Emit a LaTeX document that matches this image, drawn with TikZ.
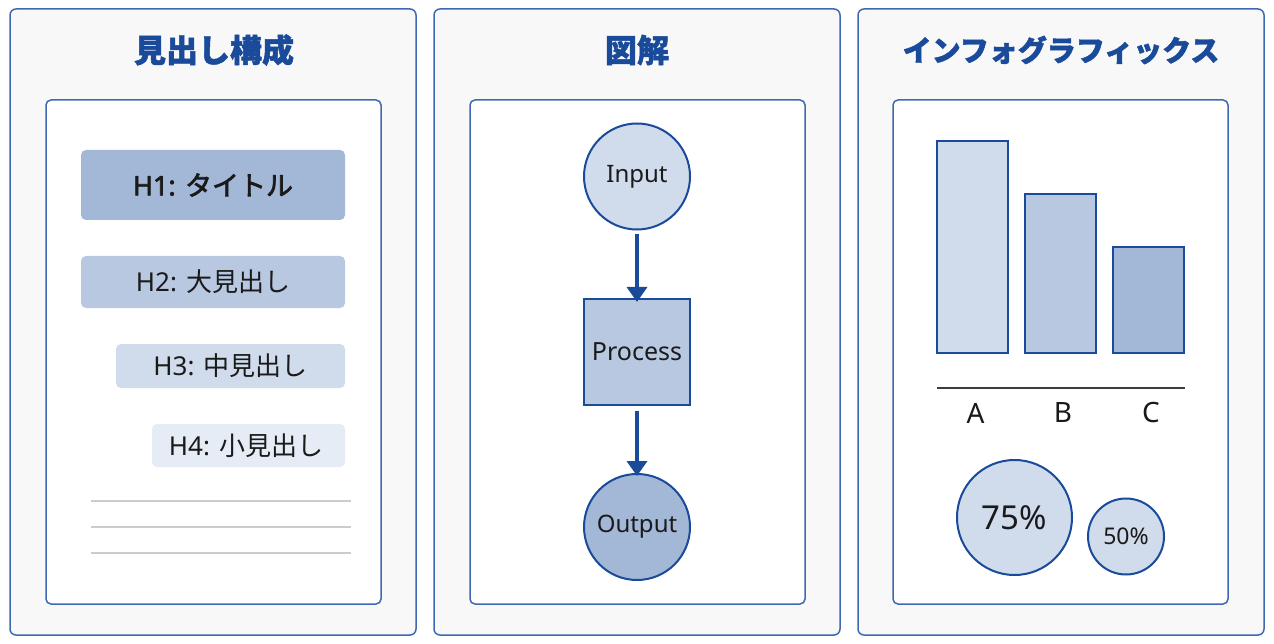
\documentclass[tikz,border=0pt]{standalone}
\usepackage{fontspec}
\setmainfont{Noto Sans}
\newfontfamily\cjk{Noto Sans CJK JP}
\newfontfamily\cjkt[FakeBold=1.5]{Noto Sans CJK JP}
\newfontfamily\latsemi[FakeBold=2.5]{Noto Sans}
\newfontfamily\cjksemi[FakeBold=2.5]{Noto Sans CJK JP}
\usetikzlibrary{arrows.meta}
\definecolor{navy}{HTML}{1A4A9A}
\definecolor{edge}{HTML}{3F6AB2}
\definecolor{panelbg}{HTML}{F8F8F8}
\definecolor{fillA}{HTML}{D0DCEC}
\definecolor{fillB}{HTML}{B8C8E1}
\definecolor{fillC}{HTML}{A3B7D7}
\definecolor{fillD}{HTML}{E5ECF5}
\definecolor{ink}{HTML}{1A1A1A}
\definecolor{rule}{HTML}{CCCCCC}
\tikzset{
  panel/.style={draw=edge, line width=1.5pt, fill=panelbg, rounded corners=6pt},
  inner/.style={draw=edge, line width=1.5pt, fill=white, rounded corners=5pt},
  ptitle/.style={text=navy},
  htext/.style={text=ink, font=\fontsize{26}{28}\selectfont},
  shape1/.style={draw=navy, line width=2pt, text=ink, font=\fontsize{24}{26}\selectfont},
  flowarrow/.style={draw=navy, line width=3.5pt, -{Triangle[length=15pt,width=20pt]}},
  barstyle/.style={draw=navy, line width=2pt},
  axislabel/.style={text=ink, font=\fontsize{28}{30}\selectfont},
}
\begin{document}
\begin{tikzpicture}[x=1pt,y=-1pt]
\useasboundingbox (0,0) rectangle (1274,644);
% panels
\draw[panel] (10,9) rectangle (416,635);
\draw[panel] (434,9) rectangle (840,635);
\draw[panel] (858,9) rectangle (1264,635);
\draw[inner] (46,100) rectangle (381,604);
\draw[inner] (470,100) rectangle (805,604);
\draw[inner] (893,100) rectangle (1228,604);
% titles
\node[ptitle, font=\fontsize{32}{34}\selectfont\cjkt\bfseries] (t1) at (214,50) {見出し構成};
\node[ptitle, font=\fontsize{32}{34}\selectfont\cjkt\bfseries] (t2) at (637,50) {図解};
\node[ptitle, font=\fontsize{29}{32}\selectfont\cjkt\bfseries] (t3) at (1061,50) {インフォグラフィックス};
% panel 1 heading boxes
\fill[fillC, rounded corners=5pt] (81,150) rectangle (345,220);
\node[text=ink, font=\fontsize{27}{29}\selectfont] (h1) at (213,185) {\latsemi H1: {\cjksemi タイトル}};
\fill[fillB, rounded corners=5pt] (81,256) rectangle (345,308);
\node[htext] (h2) at (213,282) {H2: {\cjk 大見出し}};
\fill[fillA, rounded corners=5pt] (116,344) rectangle (345,388);
\node[htext] (h3) at (230.5,366) {H3: {\cjk 中見出し}};
\fill[fillD, rounded corners=5pt] (152,424) rectangle (345,467);
\node[htext] (h4) at (246,445.5) {H4: {\cjk 小見出し}};
\foreach \yy in {501,527,553} \draw[rule, line width=2pt] (91,\yy) -- (351,\yy);
% panel 2 flow
\node[shape1, circle, fill=fillA, minimum size=106pt, inner sep=0pt] (in) at (637,176.5) {Input};
\node[shape1, rectangle, fill=fillB, minimum size=106pt, inner sep=0pt, font=\fontsize{25}{27}\selectfont] (proc) at (637,352) {Process};
\node[shape1, circle, fill=fillC, minimum size=106pt, inner sep=0pt] (out) at (637,527) {Output};
\draw[flowarrow] ([yshift=-4pt]in.south) -- ([yshift=-4pt]proc.north);
\draw[flowarrow] ([yshift=-5pt]proc.south) -- ([yshift=-3pt]out.north);
% panel 3 chart
\draw[barstyle, fill=fillA] (937,141) rectangle (1008,353);
\draw[barstyle, fill=fillB] (1025,194) rectangle (1096,353);
\draw[barstyle, fill=fillC] (1113,247) rectangle (1184,353);
\draw[draw=ink!85, line width=2pt] (937,388) -- (1185,388);
\node[axislabel] (la) at (975.5,413) {A};
\node[axislabel] (lb) at (1063,413) {B};
\node[axislabel] (lc) at (1151,413) {C};
\node[circle, draw=navy, line width=2pt, fill=fillA, minimum size=115pt, inner sep=0pt, text=ink, font=\fontsize{33}{35}\selectfont] (c75) at (1014.5,517.5) {75\%};
\node[circle, draw=navy, line width=2pt, fill=fillA, minimum size=76pt, inner sep=0pt, text=ink, font=\fontsize{23}{25}\selectfont] (c50) at (1126,536.5) {50\%};
\end{tikzpicture}
\end{document}
